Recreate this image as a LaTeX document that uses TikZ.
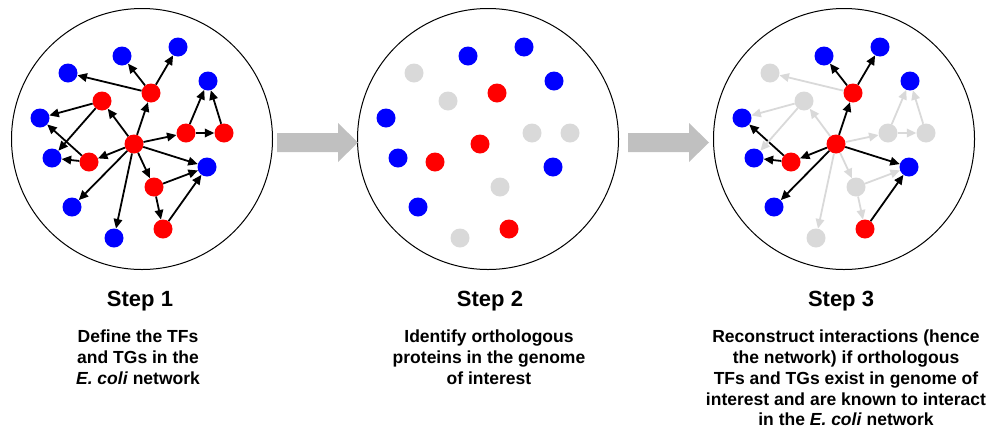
\documentclass[tikz,border=0pt]{standalone}
\usepackage{fontspec}
\setmainfont{Liberation Sans}
\usetikzlibrary{arrows.meta}

\definecolor{tfred}{RGB}{255,0,0}
\definecolor{tgblue}{RGB}{0,0,255}
\definecolor{lostgrey}{RGB}{217,217,217}
\definecolor{flowgrey}{RGB}{192,192,192}

% the 17 genes of one network, at offsets from the circle centre
\newcommand{\placegenes}{%
\node[ring] (ring) at (0,0) {};
\node[tg] (B1) at (-20,-83) {};
\node[tg] (B2) at (36,-92) {};
\node[droptg] (B3) at (-74,-66) {};
\node[tg] (B4) at (66,-58) {};
\node[tg] (B5) at (-102,-21) {};
\node[tg] (B6) at (-90,19) {};
\node[tg] (B7) at (65,28) {};
\node[tg] (B8) at (-70,68) {};
\node[droptg] (B9) at (-28,99) {};
\node[tf] (R0) at (-8,5) {};
\node[tf] (R1) at (9,-46) {};
\node[droptf] (R2) at (-40,-38) {};
\node[droptf] (R3) at (44,-6) {};
\node[droptf] (R4) at (82,-6) {};
\node[tf] (R5) at (-53,23) {};
\node[droptf] (R6) at (12,48) {};
\node[tf] (R7) at (21,90) {};
}
% regulatory links
\newcommand{\drawlinks}{%
\foreach \a/\b in {R1/B1,R1/B2,R0/R1,R5/B5,R5/B6,R0/R5,R0/B7,R7/B7,R0/B8}
  \draw[keep] (\a) -- (\b);
\foreach \a/\b in {R1/B3,R0/R2,R2/B5,R2/B6,R0/R3,R3/B4,R4/B4,R3/R4,R0/R6,R6/B7,R6/R7,R0/B9}
  \draw[drop] (\a) -- (\b);
}

\begin{document}
\begin{tikzpicture}[x=1pt,y=-1pt,
  gene/.style={circle,minimum size=19pt,inner sep=0pt},
  tf/.style={gene,fill=tfred},
  tg/.style={gene,fill=tgblue},
  lost/.style={gene,fill=lostgrey},
  ring/.style={circle,draw,line width=1pt,minimum size=261pt,inner sep=0pt},
  keep/.style={-{Triangle[length=9.5pt,width=8.5pt]},line width=1.8pt,black},
  flow/.style={fill=flowgrey},
  steptitle/.style={anchor=base,font=\bfseries\fontsize{22}{26}\selectfont},
  stepnote/.style={anchor=north,align=center,inner sep=0pt,
    font=\bfseries\fontsize{17.5}{20.75}\selectfont}]
\useasboundingbox (0,0) rectangle (992,437);

% Step 1: full E. coli network
\begin{scope}[shift={(142,139)},name prefix=a-,
  droptg/.style={tg},droptf/.style={tf},drop/.style={keep}]
\placegenes
\drawlinks
\end{scope}

% Step 2: orthologues only
\begin{scope}[shift={(488,139)},name prefix=b-,
  droptg/.style={lost},droptf/.style={lost}]
\placegenes
\end{scope}

% Step 3: reconstructed network
\begin{scope}[shift={(844,139)},name prefix=c-,
  droptg/.style={lost},droptf/.style={lost},drop/.style={keep,lostgrey}]
\placegenes
\drawlinks
\end{scope}

% block arrows
\fill[flow] (277,133) -- (338,133) -- (338,123) -- (358,142.5) -- (338,162)
  -- (338,152) -- (277,152) -- cycle;
\fill[flow] (628,133) -- (689,133) -- (689,123) -- (709,142.5) -- (689,162)
  -- (689,152) -- (628,152) -- cycle;

\node[steptitle] (title1) at (140,306) {Step 1};
\node[steptitle] (title2) at (490,306) {Step 2};
\node[steptitle] (title3) at (841,306) {Step 3};

\node[stepnote] (note1) at (138,330) {Define the TFs\\and TGs in the\\\textit{E. coli} network};
\node[stepnote] (note2) at (489,330) {Identify orthologous\\proteins in the genome\\of interest};
\node[stepnote] (note3) at (846,330) {Reconstruct interactions (hence\\the network) if orthologous\\TFs and TGs exist in genome of\\interest and are known to interact\\in the \textit{E. coli} network};
\end{tikzpicture}
\end{document}
